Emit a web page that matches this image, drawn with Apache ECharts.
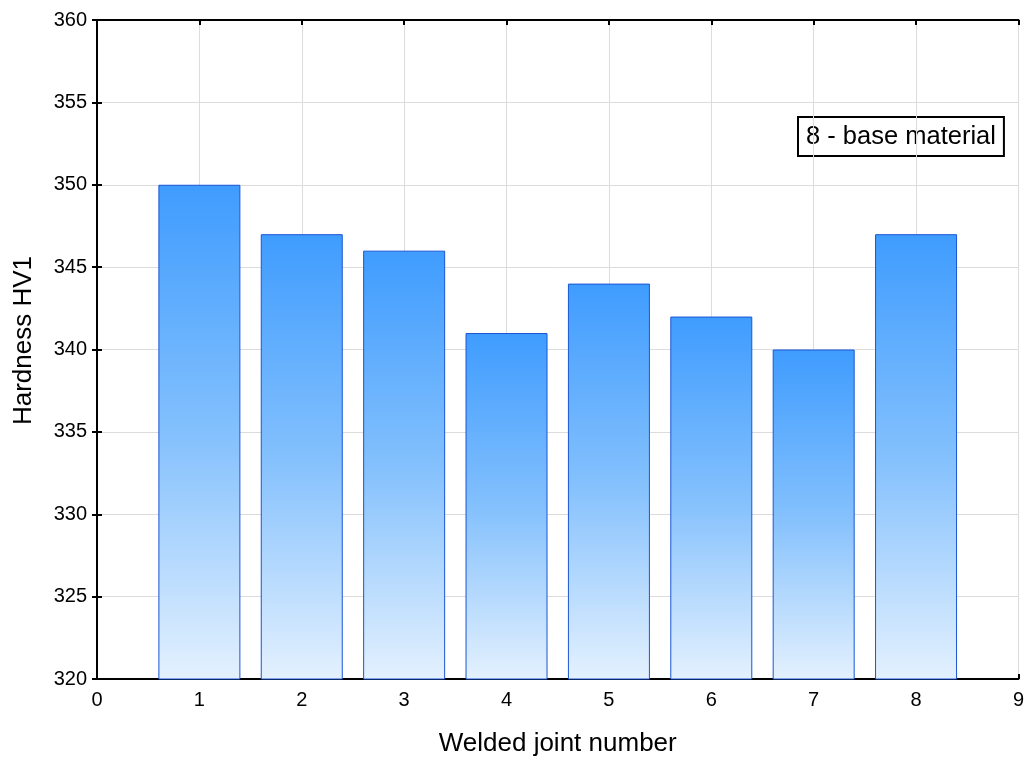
<!DOCTYPE html>
<html><head><meta charset="utf-8">
<script src="https://cdn.jsdelivr.net/npm/echarts@6/dist/echarts.min.js"></script>
<style>html,body{margin:0;padding:0;background:#fff}#c{width:1027px;height:762px}</style>
</head><body><div id="c"></div>
<script>
const jointNumbers = [1, 2, 3, 4, 5, 6, 7, 8];
const hardness = [350, 347, 346, 341, 344, 342, 340, 347];
const legendText = '8 - base material';
const xTitle = 'Welded joint number';
const yTitle = 'Hardness HV1';

const chart = echarts.init(document.getElementById('c'));
const grad = new echarts.graphic.LinearGradient(0, 0, 0, 1, [
  {offset: 0, color: '#3f9cfe'},
  {offset: 0.5, color: '#83c0fd'},
  {offset: 1, color: '#e4f1fe'}
]);
const font = "'Liberation Sans', Arial, sans-serif";
const common = {
  axisLine: {show: true, lineStyle: {color: '#000', width: 2}},
  axisTick: {show: true, inside: true, length: 5, lineStyle: {color: '#000', width: 2}},
};
chart.setOption({
  animation: false,
  grid: {left: 97, right: 7, top: 20, bottom: 82, show: false},
  xAxis: [{
    type: 'value', min: 0, max: 9, interval: 1,
    name: xTitle, nameLocation: 'middle', nameGap: 52,
    nameTextStyle: {fontFamily: font, fontSize: 26, color: '#000'},
    axisLabel: {fontFamily: font, fontSize: 20, color: '#000', margin: 11},
    splitLine: {show: true, lineStyle: {color: '#dcdcdc', width: 1}},
    ...common
  }, {
    type: 'value', min: 0, max: 9, interval: 1, position: 'top',
    axisLabel: {show: false}, splitLine: {show: false}, ...common
  }],
  yAxis: [{
    type: 'value', min: 320, max: 360, interval: 5,
    name: yTitle, nameLocation: 'middle', nameGap: 60,
    nameTextStyle: {fontFamily: font, fontSize: 26, color: '#000', padding: [0, 0, 0, 18]},
    axisLabel: {fontFamily: font, fontSize: 20, color: '#000', margin: 10},
    splitLine: {show: true, lineStyle: {color: '#dcdcdc', width: 1}},
    ...common
  }, {
    type: 'value', min: 320, max: 360, interval: 5, position: 'right',
    axisLabel: {show: false}, splitLine: {show: false}, ...common
  }],
  series: [{
    type: 'bar',
    data: jointNumbers.map((x, i) => [x, hardness[i]]),
    barWidth: 82,
    itemStyle: {color: grad, borderColor: '#1a56d6', borderWidth: 1}
  }],
  graphic: [{
    type: 'text', left: 797, top: 116,
    style: {
      text: legendText, fontFamily: font, fontSize: 25.5, fill: '#000',
      backgroundColor: '#fff', borderColor: '#000', borderWidth: 2,
      padding: [6, 7, 5, 7]
    }
  }]
});
</script></body></html>
